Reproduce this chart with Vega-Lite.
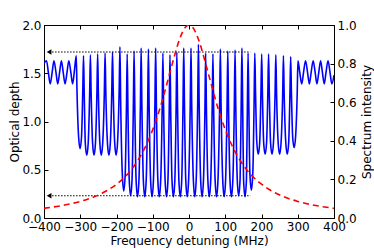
{
  "$schema": "https://vega.github.io/schema/vega-lite/v6.json",
  "width": 290,
  "height": 193,
  "autosize": {"type": "none"},
  "padding": {"left": 44, "top": 25, "right": 40, "bottom": 30},
  "background": "white",
  "config": {
    "font": "DejaVu Sans",
    "view": {"stroke": "black", "strokeWidth": 1},
    "axis": {
      "domain": false, "grid": false, "tickSize": -4, "tickColor": "black", "tickWidth": 1,
      "labelColor": "black", "labelFontSize": 12, "labelFont": "DejaVu Sans",
      "titleFont": "DejaVu Sans", "titleFontSize": 12, "titleFontWeight": "normal", "titleColor": "black",
      "labelPadding": 7, "labelFlush": false, "labelOverlap": false, "labelBound": false
    }
  },
  "datasets": {
    "od": [
      {"f":-400,"od":1.60},{"f":-393,"od":1.63},{"f":-388,"od":1.51},{"f":-383,"od":1.39},{"f":-377.5,"od":1.51},{"f":-372.5,"od":1.63},{"f":-367,"od":1.51},{"f":-362,"od":1.39},{"f":-357,"od":1.51},{"f":-352,"od":1.63},{"f":-347,"od":1.51},{"f":-342,"od":1.39},{"f":-336.5,"od":1.51},{"f":-331.5,"od":1.63},{"f":-326,"od":1.51},{"f":-321,"od":1.39},{"f":-316,"od":1.53},{"f":-311,"od":1.68},
      {"f":-309,"od":1.32},{"f":-304.5,"od":0.84},{"f":-300.5,"od":0.72},{"f":-296.5,"od":0.84},{"f":-293,"od":1.32},{"f":-291,"od":1.68},
      {"f":-289,"od":1.29},{"f":-286,"od":0.77},{"f":-282,"od":0.65},{"f":-278,"od":0.78},{"f":-274,"od":1.30},{"f":-272,"od":1.69},
      {"f":-270,"od":1.30},{"f":-266,"od":0.78},{"f":-262,"od":0.65},{"f":-258,"od":0.78},{"f":-254,"od":1.30},{"f":-252,"od":1.70},
      {"f":-250,"od":1.30},{"f":-246,"od":0.78},{"f":-242,"od":0.65},{"f":-238,"od":0.78},{"f":-233.5,"od":1.31},{"f":-231.5,"od":1.71},
      {"f":-229.5,"od":1.31},{"f":-225,"od":0.78},{"f":-221,"od":0.65},{"f":-217,"od":0.78},{"f":-213,"od":1.31},{"f":-211,"od":1.72},
      {"f":-209,"od":1.31},{"f":-205,"od":0.78},{"f":-201,"od":0.65},{"f":-197,"od":0.79},{"f":-192.5,"od":1.35},{"f":-190.5,"od":1.775},
      {"f":-188.5,"od":1.21},{"f":-184,"od":0.46},{"f":-180,"od":0.28},{"f":-176,"od":0.45},{"f":-172.5,"od":1.16},{"f":-170.5,"od":1.70},
      {"f":-168.5,"od":1.14},{"f":-165,"od":0.41},{"f":-161,"od":0.23},{"f":-157,"od":0.41},{"f":-153.5,"od":1.16},{"f":-151.5,"od":1.73},
      {"f":-149.5,"od":1.16},{"f":-146,"od":0.40},{"f":-142,"od":0.22},{"f":-138,"od":0.40},{"f":-134,"od":1.18},{"f":-132,"od":1.76},
      {"f":-130,"od":1.18},{"f":-126,"od":0.40},{"f":-122,"od":0.22},{"f":-118,"od":0.40},{"f":-114,"od":1.17},{"f":-112,"od":1.75},
      {"f":-110,"od":1.17},{"f":-106,"od":0.40},{"f":-102,"od":0.22},{"f":-98,"od":0.40},{"f":-94,"od":1.18},{"f":-92,"od":1.76},
      {"f":-90,"od":1.18},{"f":-86,"od":0.40},{"f":-82,"od":0.22},{"f":-78,"od":0.40},{"f":-74,"od":1.14},{"f":-72,"od":1.71},
      {"f":-70,"od":1.14},{"f":-66,"od":0.40},{"f":-62,"od":0.22},{"f":-58,"od":0.40},{"f":-54.5,"od":1.13},{"f":-52.5,"od":1.69},
      {"f":-50.5,"od":1.13},{"f":-47,"od":0.40},{"f":-43,"od":0.22},{"f":-39,"od":0.40},{"f":-35.5,"od":1.15},{"f":-33.5,"od":1.72},
      {"f":-31.5,"od":1.15},{"f":-28,"od":0.40},{"f":-24,"od":0.22},{"f":-20,"od":0.40},{"f":-16.5,"od":1.18},{"f":-14.5,"od":1.76},
      {"f":-12.5,"od":1.18},{"f":-9,"od":0.40},{"f":-5,"od":0.22},{"f":-1,"od":0.40},{"f":3.5,"od":1.18},{"f":5.5,"od":1.76},
      {"f":7.5,"od":1.18},{"f":12,"od":0.40},{"f":16,"od":0.22},{"f":20,"od":0.41},{"f":24,"od":1.20},{"f":26,"od":1.80},
      {"f":28,"od":1.20},{"f":32,"od":0.41},{"f":36,"od":0.22},{"f":40,"od":0.40},{"f":44,"od":1.14},{"f":46,"od":1.71},
      {"f":48,"od":1.14},{"f":52,"od":0.40},{"f":56,"od":0.22},{"f":60,"od":0.40},{"f":64,"od":1.14},{"f":66,"od":1.70},
      {"f":68,"od":1.14},{"f":72,"od":0.40},{"f":76,"od":0.22},{"f":80,"od":0.40},{"f":84.5,"od":1.17},{"f":86.5,"od":1.75},
      {"f":88.5,"od":1.17},{"f":93,"od":0.40},{"f":97,"od":0.22},{"f":101,"od":0.40},{"f":105,"od":1.16},{"f":107,"od":1.73},
      {"f":109,"od":1.16},{"f":113,"od":0.40},{"f":117,"od":0.22},{"f":121,"od":0.40},{"f":125,"od":1.16},{"f":127,"od":1.74},
      {"f":129,"od":1.17},{"f":133,"od":0.41},{"f":137,"od":0.23},{"f":141,"od":0.41},{"f":144,"od":1.18},{"f":146,"od":1.76},
      {"f":148,"od":1.18},{"f":150.5,"od":0.40},{"f":154.5,"od":0.22},{"f":158.5,"od":0.40},{"f":161,"od":1.14},{"f":163,"od":1.71},
      {"f":165,"od":1.17},{"f":168,"od":0.46},{"f":172,"od":0.29},{"f":176,"od":0.46},{"f":179.5,"od":1.17},{"f":181.5,"od":1.71},
      {"f":183.5,"od":1.31},{"f":187,"od":0.79},{"f":191,"od":0.66},{"f":195,"od":0.78},{"f":198.5,"od":1.30},{"f":200.5,"od":1.70},
      {"f":202.5,"od":1.30},{"f":206,"od":0.78},{"f":210,"od":0.66},{"f":214,"od":0.78},{"f":217.5,"od":1.30},{"f":219.5,"od":1.70},
      {"f":221.5,"od":1.30},{"f":225,"od":0.78},{"f":229,"od":0.66},{"f":233,"od":0.78},{"f":237.5,"od":1.30},{"f":239.5,"od":1.69},
      {"f":241.5,"od":1.30},{"f":246,"od":0.78},{"f":250,"od":0.66},{"f":254,"od":0.78},{"f":258.5,"od":1.29},{"f":260.5,"od":1.68},
      {"f":262.5,"od":1.29},{"f":267,"od":0.78},{"f":271,"od":0.66},{"f":275,"od":0.78},{"f":278.5,"od":1.29},{"f":280.5,"od":1.67},
      {"f":282.5,"od":1.31},{"f":286,"od":0.84},{"f":290,"od":0.73},{"f":294,"od":0.84},{"f":298.5,"od":1.29},{"f":300.5,"od":1.63},
      {"f":305.5,"od":1.51},{"f":311,"od":1.39},{"f":316,"od":1.51},{"f":321.5,"od":1.63},{"f":327,"od":1.51},{"f":332,"od":1.39},{"f":337,"od":1.51},{"f":342.5,"od":1.63},{"f":348,"od":1.51},{"f":353,"od":1.39},{"f":358,"od":1.51},{"f":363,"od":1.63},{"f":368,"od":1.51},{"f":373,"od":1.39},{"f":378,"od":1.51},{"f":383.5,"od":1.63},{"f":389,"od":1.51},{"f":394,"od":1.39},{"f":400,"od":1.48}
    ],
    "spec": [
      {"f":-400,"s":0.0503},{"f":-380,"s":0.0554},{"f":-360,"s":0.0613},{"f":-340,"s":0.0682},{"f":-320,"s":0.0763},{"f":-300,"s":0.086},{"f":-280,"s":0.0974},{"f":-260,"s":0.111},{"f":-240,"s":0.128},{"f":-220,"s":0.149},{"f":-200,"s":0.175},{"f":-180,"s":0.207},{"f":-160,"s":0.248},{"f":-140,"s":0.302},{"f":-120,"s":0.370},{"f":-100,"s":0.458},{"f":-90,"s":0.511},{"f":-80,"s":0.569},{"f":-70,"s":0.633},{"f":-60,"s":0.702},{"f":-50,"s":0.772},{"f":-40,"s":0.841},{"f":-30,"s":0.904},{"f":-20,"s":0.955},{"f":-10,"s":0.988},{"f":0,"s":1.0},
      {"f":10,"s":0.988},{"f":20,"s":0.955},{"f":30,"s":0.904},{"f":40,"s":0.841},{"f":50,"s":0.772},{"f":60,"s":0.702},{"f":70,"s":0.633},{"f":80,"s":0.569},{"f":90,"s":0.511},{"f":100,"s":0.458},{"f":120,"s":0.370},{"f":140,"s":0.302},{"f":160,"s":0.248},{"f":180,"s":0.207},{"f":200,"s":0.175},{"f":220,"s":0.149},{"f":240,"s":0.128},{"f":260,"s":0.111},{"f":280,"s":0.0974},{"f":300,"s":0.086},{"f":320,"s":0.0763},{"f":340,"s":0.0682},{"f":360,"s":0.0613},{"f":380,"s":0.0554},{"f":400,"s":0.0503}
    ],
    "arrows": [
      {"x1": -386, "x2": 169, "y": 1.72},
      {"x1": -386, "x2": 169, "y": 0.23}
    ]
  },
  "layer": [
    {
      "data": {"name": "od"},
      "mark": {"type": "line", "interpolate": "monotone", "color": "#0000ff", "strokeWidth": 1.6, "clip": true},
      "encoding": {
        "x": {"field": "f", "type": "quantitative", "scale": {"domain": [-400, 400], "nice": false},
          "axis": {"orient": "bottom", "title": "Frequency detuning (MHz)", "values": [-400,-300,-200,-100,0,100,200,300,400], "format": "d",
            "titleX": 145, "titleY": 26, "titleBaseline": "alphabetic", "titleAlign": "center"}},
        "y": {"field": "od", "type": "quantitative", "scale": {"domain": [0, 2], "nice": false, "zero": false},
          "axis": {"orient": "left", "title": "Optical depth", "values": [0,0.5,1,1.5,2], "format": ".1f",
            "titleAngle": 270, "titleX": -25.5, "titleY": 96.5, "titleAlign": "center", "titleBaseline": "alphabetic"}}
      }
    },
    {
      "data": {"name": "arrows"},
      "mark": {"type": "rule", "color": "black", "strokeWidth": 1.1, "strokeDash": [1.5, 1.5]},
      "encoding": {
        "x": {"field": "x1", "type": "quantitative", "scale": {"domain": [-400, 400], "nice": false}, "axis": null},
        "x2": {"field": "x2"},
        "y": {"field": "y", "type": "quantitative", "scale": {"domain": [0, 2], "nice": false, "zero": false}, "axis": null}
      }
    },
    {
      "data": {"name": "arrows"},
      "mark": {"type": "point", "shape": "triangle-left", "filled": true, "color": "black", "size": 30, "opacity": 1},
      "encoding": {
        "x": {"field": "x1", "type": "quantitative", "scale": {"domain": [-400, 400], "nice": false}, "axis": null},
        "y": {"field": "y", "type": "quantitative", "scale": {"domain": [0, 2], "nice": false, "zero": false}, "axis": null}
      }
    },
    {
      "data": {"name": "spec"},
      "mark": {"type": "line", "interpolate": "monotone", "color": "#ff0000", "strokeWidth": 1.6, "strokeDash": [6, 4], "clip": true},
      "encoding": {
        "x": {"field": "f", "type": "quantitative", "scale": {"domain": [-400, 400], "nice": false},
          "axis": {"orient": "top", "labels": false, "title": null, "values": [-400,-300,-200,-100,0,100,200,300,400]}},
        "y": {"field": "s", "type": "quantitative", "scale": {"domain": [0, 1], "nice": false, "zero": false},
          "axis": {"orient": "right", "title": "Spectrum intensity", "values": [0,0.2,0.4,0.6,0.8,1], "format": ".1f",
            "titleAngle": 270, "titleX": 36, "titleY": 96.5, "titleAlign": "center", "titleBaseline": "alphabetic"}}
      }
    }
  ],
  "resolve": {"scale": {"y": "independent"}}
}
